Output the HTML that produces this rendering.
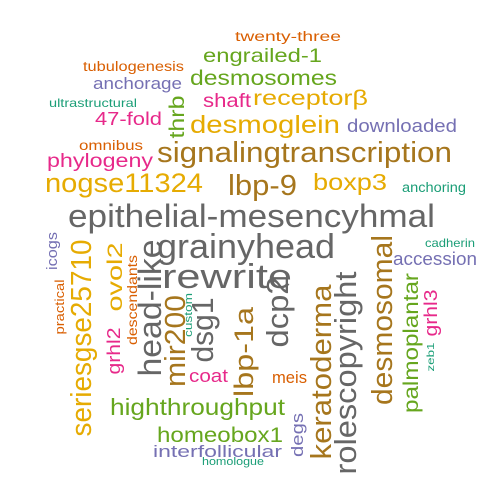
<!DOCTYPE html>
<html><head><meta charset="utf-8"><style>
html,body{margin:0;padding:0;background:#fff;width:500px;height:500px;overflow:hidden}
svg text{font-family:"Liberation Sans",Arial,sans-serif}
</style></head><body>
<svg id="cloud" width="500" height="500" viewBox="0 0 500 500"></svg>
<script>
// horizontal words: [text, leftX, baselineY, width, fontSize, color]
const hWords = [
["twenty-three",235,41,106,15,"#D95F02"],
["tubulogenesis",83,71,101,15,"#D95F02"],
["engrailed-1",203,62,119,22,"#66A61E"],
["desmosomes",190,85,147,24,"#66A61E"],
["anchorage",93,89,89,18,"#7570B3"],
["ultrastructural",49,107,88,13,"#1B9E77"],
["shaft",203,107,48,22,"#E7298A"],
["receptorβ",253,105,115,24,"#E6AB02"],
["47-fold",95,125,67,21,"#E7298A"],
["desmoglein",190,133,150,28,"#E6AB02"],
["downloaded",347,132,110,20,"#7570B3"],
["omnibus",79,150,64,15,"#D95F02"],
["signalingtranscription",157,162,295,32,"#A6761D"],
["phylogeny",47,167,106,22,"#E7298A"],
["nogse11324",45,192,158,30,"#E6AB02"],
["lbp-9",228,195,69,32,"#A6761D"],
["boxp3",313,190,74,26,"#E6AB02"],
["anchoring",402,192,64,15,"#1B9E77"],
["epithelial-mesencyhmal",68,227,367,36,"#666666"],
["grainyhead",157,258,178,38,"#666666"],
["cadherin",425,247,50,13,"#1B9E77"],
["accession",393,265,84,20,"#7570B3"],
["rewrite",162,288,130,38,"#666666"],
["coat",189,382,39,20,"#E7298A"],
["meis",272,383,35,18,"#D95F02"],
["highthroughput",110,415,175,26,"#66A61E"],
["homeobox1",157,442,126,24,"#66A61E"],
["interfollicular",153,457,129,18,"#7570B3"],
["homologue",202,465,62,12,"#1B9E77"]
];
// vertical words: [text, baselineX, centerY, length, fontSize, color]
const vWords = [
["thrb",184,117,43,24,"#66A61E"],
["icogs",57,251,38,16,"#7570B3"],
["seriesgse25710",91,338,197,32,"#E6AB02"],
["practical",64,307,55,14,"#D95F02"],
["grhl2",120,351,47,20,"#E7298A"],
["ovol2",122,277,69,24,"#E6AB02"],
["descendants",137,300,90,15,"#D95F02"],
["head-like",161,308,137,36,"#666666"],
["mir200",185,341,92,32,"#A6761D"],
["custom",192,315,44,12,"#1B9E77"],
["dsg1",213,330,65,34,"#666666"],
["lbp-1a",253,352,90,30,"#A6761D"],
["dcp2",288,312,71,34,"#666666"],
["keratoderma",331,372,175,32,"#A6761D"],
["rolescopyright",356,373,203,34,"#666666"],
["desmosomal",392,320,170,32,"#A6761D"],
["palmoplantar",418,343,140,24,"#66A61E"],
["grhl3",437,313,47,20,"#E7298A"],
["zeb1",434,357,29,11,"#1B9E77"],
["degs",303,435,44,18,"#7570B3"]
];
const SCALE=0.9;
const NS="http://www.w3.org/2000/svg";
const svg=document.getElementById('cloud');
hWords.forEach(w=>{
  const t=document.createElementNS(NS,'text');
  t.setAttribute('x',w[1]);t.setAttribute('y',w[2]);
  t.setAttribute('font-size',w[4]*SCALE);t.setAttribute('fill',w[5]);
  t.setAttribute('textLength',w[3]);t.setAttribute('lengthAdjust','spacingAndGlyphs');
  t.textContent=w[0];
  
  
  svg.appendChild(t);
});
vWords.forEach(w=>{
  const t=document.createElementNS(NS,'text');
  t.setAttribute('x',w[1]);t.setAttribute('y',w[2]);
  t.setAttribute('text-anchor','middle');
  t.setAttribute('transform','rotate(-90 '+w[1]+' '+w[2]+')');
  t.setAttribute('font-size',w[4]*SCALE);t.setAttribute('fill',w[5]);
  t.setAttribute('textLength',w[3]);t.setAttribute('lengthAdjust','spacingAndGlyphs');
  t.textContent=w[0];
  
  
  svg.appendChild(t);
});
</script>
</body></html>
